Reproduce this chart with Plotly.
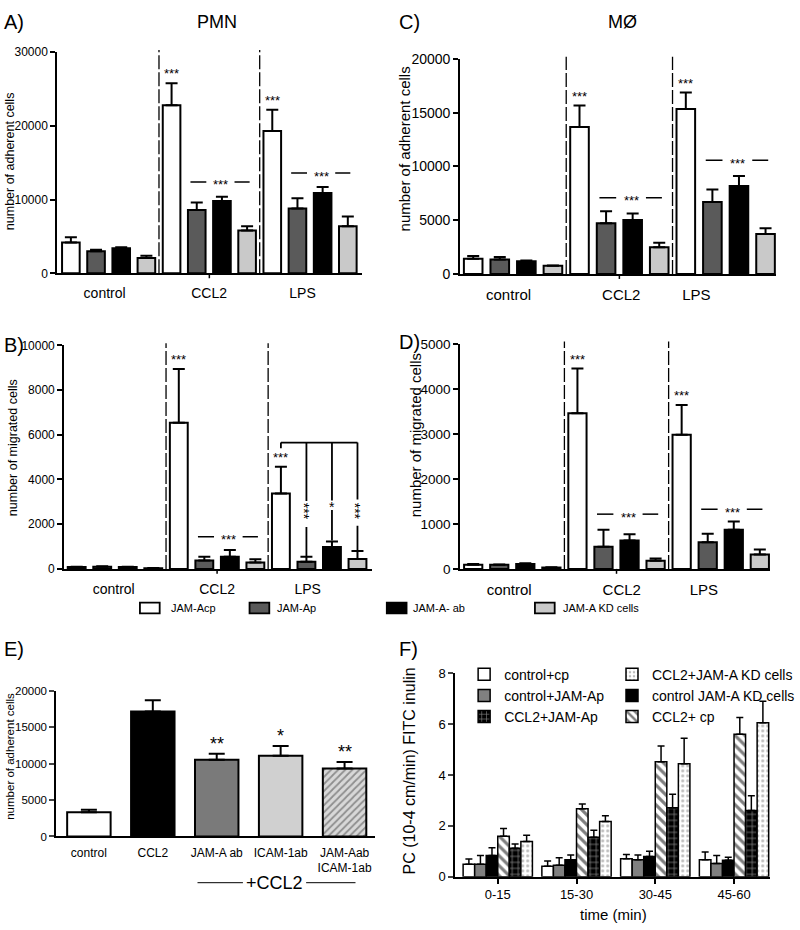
import plotly.graph_objects as go

W, H = 800, 930
FONT = "Liberation Sans, Arial, Helvetica, sans-serif"
NARROW = "Liberation Sans Narrow, Arial Narrow, Liberation Sans, Arial, sans-serif"

# ---------------- data ----------------
conditions = ["control", "CCL2", "LPS"]
series_names = ["JAM-Acp", "JAM-Ap", "JAM-A- ab", "JAM-A KD cells"]
series_colors = ["#ffffff", "#5a5a5a", "#000000", "#c9c9c9"]

# A) PMN - number of adherent cells
A_cp = [4200, 22800, 19300]
A_cp_err = [700, 3000, 2900]
A_p = [3000, 8600, 8800]
A_p_err = [200, 1000, 1400]
A_ab = [3400, 9800, 10900]
A_ab_err = [150, 600, 800]
A_kd = [2100, 5800, 6400]
A_kd_err = [300, 600, 1300]

# B) PMN - number of migrated cells
B_cp = [80, 6540, 3370]
B_cp_err = [20, 2400, 1200]
B_p = [100, 370, 320]
B_p_err = [20, 170, 220]
B_ab = [80, 540, 980]
B_ab_err = [15, 300, 250]
B_kd = [30, 290, 440]
B_kd_err = [10, 140, 360]

# C) MØ - number of adherent cells
C_cp = [1430, 13670, 15340]
C_cp_err = [240, 1980, 1520]
C_p = [1340, 4720, 6700]
C_p_err = [240, 1120, 1150]
C_ab = [1190, 5020, 8190]
C_ab_err = [60, 610, 910]
C_kd = [760, 2500, 3710]
C_kd_err = [40, 400, 550]

# D) MØ - number of migrated cells
D_cp = [90, 3460, 2980]
D_cp_err = [20, 990, 660]
D_p = [90, 490, 590]
D_p_err = [10, 380, 190]
D_ab = [110, 630, 870]
D_ab_err = [15, 140, 180]
D_kd = [30, 180, 320]
D_kd_err = [5, 50, 110]

# B) LPS bracket: (series index, stars, star centre, upper segment end, lower segment start)
B_bracket_y = 5650
B_bracket_items = [(1, "***", 2581, 3034, 1878), (2, "*", 2889, 3065, 2638), (3, "***", 2581, 3109, 1935)]

# E) adherent cells with antibodies
E_cats = ["control", "CCL2", "JAM-A ab", "ICAM-1ab", "JAM-Aab<br>ICAM-1ab"]
E_vals = [3330, 17170, 10560, 11100, 9350]
E_err = [360, 1570, 810, 1350, 900]
E_sig = ["", "", "**", "*", "**"]
E_colors = ["#ffffff", "#000000", "#7a7a7a", "#d0d0d0", "#d8d8d8"]
E_patterns = ["", "", "", "", "/"]

# F) permeability
F_times = ["0-15", "15-30", "30-45", "45-60"]
F_names = ["control+cp", "control+JAM-Ap", "control JAM-A KD cells",
           "CCL2+ cp", "CCL2+JAM-Ap", "CCL2+JAM-A KD cells"]
F_vals = [
    [0.49, 0.41, 0.71, 0.67],
    [0.49, 0.45, 0.67, 0.52],
    [0.84, 0.67, 0.80, 0.65],
    [1.59, 2.68, 4.52, 5.61],
    [1.12, 1.55, 2.71, 2.61],
    [1.39, 2.17, 4.45, 6.06],
]
F_errs = [
    [0.21, 0.21, 0.17, 0.30],
    [0.35, 0.30, 0.19, 0.32],
    [0.30, 0.19, 0.20, 0.12],
    [0.31, 0.18, 0.62, 0.65],
    [0.17, 0.28, 0.54, 0.58],
    [0.24, 0.23, 1.00, 0.84],
]

# ---------------- helpers ----------------
def px(xp):
    return xp / W

def py(yp):
    return 1 - yp / H

fig = go.Figure()
annotations = []
shapes = []

def ann(text, xp, yp, size, **kw):
    d = dict(text=text, x=px(xp), y=py(yp), xref="paper", yref="paper",
             showarrow=False, font=dict(size=size, color="black", family=kw.pop("family", FONT)),
             xanchor=kw.pop("xanchor", "center"), yanchor=kw.pop("yanchor", "middle"))
    d.update(kw)
    annotations.append(d)

panels = {
    "A": dict(vals=[A_cp, A_p, A_ab, A_kd], errs=[A_cp_err, A_p_err, A_ab_err, A_kd_err],
              ax="", dom_x=(58, 367), dom_y=(45, 270), xr=[-0.54, 11.58], yr=[0, 30000], dt=10000,
              labels=[1.34, 5.49, 9.2], sig_y=[12400, 13600], bracket=False, tf=12, lf=14),
    "B": dict(vals=[B_cp, B_p, B_ab, B_kd], errs=[B_cp_err, B_p_err, B_ab_err, B_kd_err],
              ax="2", dom_x=(65, 377), dom_y=(343.3, 570.7), xr=[-0.49, 11.58], yr=[0, 10000], dt=2000,
              labels=[1.45, 5.5, 9.05], sig_y=[1440, None], bracket=True, tf=12, lf=14),
    "C": dict(vals=[C_cp, C_p, C_ab, C_kd], errs=[C_cp_err, C_p_err, C_ab_err, C_kd_err],
              ax="3", dom_x=(466, 786), dom_y=(51.7, 270.7), xr=[-0.49, 11.4], yr=[0, 20000], dt=5000,
              labels=[1.33, 5.57, 8.4], sig_y=[7100, 10570], bracket=False, tf=14, lf=15),
    "D": dict(vals=[D_cp, D_p, D_ab, D_kd], errs=[D_cp_err, D_p_err, D_ab_err, D_kd_err],
              ax="4", dom_x=(466, 780), dom_y=(341.7, 570.7), xr=[-0.5, 11.4], yr=[0, 5000], dt=1000,
              labels=[1.38, 5.7, 8.85], sig_y=[1216, 1325], bracket=False, tf=13.5, lf=15),
}

layout_axes = {}

def axis_common():
    return dict(showline=True, linecolor="black", linewidth=2, showgrid=False, zeroline=False,
                tickfont=dict(size=12, color="black", family=FONT))

for key, p in panels.items():
    xa = "x" + p["ax"]
    ya = "y" + p["ax"]
    for s in range(4):
        fig.add_trace(go.Bar(
            x=[c * 4 + s for c in range(3)], y=p["vals"][s], width=0.7, offset=-0.35,
            marker=dict(color=series_colors[s], line=dict(color="black", width=2)),
            error_y=dict(type="data", array=p["errs"][s], arrayminus=[0, 0, 0], symmetric=False,
                         color="black", thickness=2, width=6),
            name=series_names[s], showlegend=False, xaxis=xa, yaxis=ya))
    xkey = "xaxis" + p["ax"]
    ykey = "yaxis" + p["ax"]
    xd = axis_common()
    xd.update(domain=[px(p["dom_x"][0]), px(p["dom_x"][1])], range=p["xr"], anchor=ya,
              tickmode="array", tickvals=p["labels"], ticktext=conditions, ticks="",
              tickfont=dict(size=p["lf"], color="black", family=FONT), ticklabelstandoff=6)
    yd = axis_common()
    yd.update(domain=[py(p["dom_y"][1]), py(p["dom_y"][0])], range=p["yr"], anchor=xa,
              tickmode="linear", tick0=0, dtick=p["dt"], tickformat="d", ticks="outside",
              ticklen=5, tickwidth=1.5, tickcolor="black",
              tickfont=dict(size=p["tf"], color="black", family=FONT))
    layout_axes[xkey] = xd
    layout_axes[ykey] = yd
    # small tick mark under the middle group
    yb = p["dom_y"][1]
    shapes.append(dict(type="line", xref=xa, yref="paper", x0=5.5, x1=5.5, y0=py(yb), y1=py(yb + 5),
                       line=dict(color="black", width=1.5)))
    # dashed separators
    for xs in (3.5, 7.5):
        shapes.append(dict(type="line", xref=xa, yref=ya + " domain", x0=xs, x1=xs, y0=0, y1=1.01,
                           line=dict(color="black", width=1.3, dash="14px,3px")))
    # *** above JAM-Acp at CCL2 and LPS
    cp, cpe = p["vals"][0], p["errs"][0]
    for c in (1, 2):
        annotations.append(dict(text="***", x=c * 4, y=cp[c] + cpe[c], xref=xa, yref=ya,
                                showarrow=False, yanchor="bottom", yshift=0,
                                font=dict(size=13, color="black", family=FONT)))
    # group significance lines
    for c, yv in zip((1, 2), p["sig_y"]):
        if yv is None:
            continue
        g = c * 4 + 2
        for x0, x1 in ((g - 1.25, g - 0.62), (g + 0.5, g + 1.1)):
            shapes.append(dict(type="line", xref=xa, yref=ya, x0=x0, x1=x1, y0=yv, y1=yv,
                               line=dict(color="black", width=1.5)))
        annotations.append(dict(text="***", x=g - 0.05, y=yv, xref=xa, yref=ya, showarrow=False,
                                yanchor="middle", yshift=-3,
                                font=dict(size=13, color="black", family=FONT)))
    if p["bracket"]:
        top = B_bracket_y
        shapes.append(dict(type="line", xref=xa, yref=ya, x0=8, x1=11, y0=top, y1=top,
                           line=dict(color="black", width=1.8)))
        shapes.append(dict(type="line", xref=xa, yref=ya, x0=8, x1=8, y0=top, y1=top - 250,
                           line=dict(color="black", width=1.8)))
        for s, stars, sy, up_end, low_top in B_bracket_items:
            xv = 8 + s
            shapes.append(dict(type="line", xref=xa, yref=ya, x0=xv, x1=xv, y0=top, y1=up_end,
                               line=dict(color="black", width=1.8)))
            if len(stars) > 1:
                annotations.append(dict(text=stars, x=xv, y=sy, xref=xa, yref=ya, showarrow=False,
                                        textangle=90, xanchor="center", yanchor="middle", xshift=-3,
                                        font=dict(size=14, color="black", family=FONT)))
            else:
                annotations.append(dict(text=stars, x=xv, y=sy, xref=xa, yref=ya, showarrow=False,
                                        yanchor="middle", yshift=-3,
                                        font=dict(size=14, color="black", family=FONT)))
            low_bot = p["vals"][s][2] + p["errs"][s][2] + 40
            shapes.append(dict(type="line", xref=xa, yref=ya, x0=xv, x1=xv, y0=low_top, y1=low_bot,
                               line=dict(color="black", width=1.8)))

# ---------------- panel E ----------------
fig.add_trace(go.Bar(
    x=list(range(len(E_cats))), y=E_vals, width=0.68,
    marker=dict(color=E_colors, line=dict(color="black", width=2),
                pattern=dict(shape=E_patterns, fgcolor="#3a3a3a", bgcolor="#d8d8d8", size=5, solidity=0.35)),
    error_y=dict(type="data", array=E_err, arrayminus=[0] * 5, symmetric=False,
                 color="black", thickness=2, width=8),
    showlegend=False, xaxis="x5", yaxis="y5"))
xd = axis_common()
xd.update(domain=[px(57), px(380)], range=[-0.51, 4.48], anchor="y5", tickmode="array",
          tickvals=list(range(len(E_cats))), ticktext=E_cats, ticks="", ticklabelstandoff=4)
yd = axis_common()
yd.update(domain=[py(843), py(695)], range=[0, 20000], anchor="x5", tickmode="linear", tick0=0,
          dtick=5000, tickformat="d", ticks="outside", ticklen=5, tickwidth=1.5,
          tickfont=dict(size=11.5, color="black", family=FONT))
layout_axes["xaxis5"] = xd
layout_axes["yaxis5"] = yd
for i, s in enumerate(E_sig):
    if s:
        annotations.append(dict(text=s, x=i, y=E_vals[i] + E_err[i], xref="x5", yref="y5",
                                showarrow=False, yanchor="bottom", yshift=-2,
                                font=dict(size=18, color="black", family=FONT)))

# ---------------- panel F ----------------
F_colors = ["#ffffff", "#808080", "#000000", "#ffffff", "#000000", "#ffffff"]
F_pat = [dict(shape=""), dict(shape=""), dict(shape=""),
         dict(shape="\\", fgcolor="black", bgcolor="white", size=7, solidity=0.45),
         dict(shape="+", fgcolor="white", bgcolor="black", size=6, solidity=0.25),
         dict(shape=".", fgcolor="#777777", bgcolor="white", size=5, solidity=0.3)]
F_leg = ["legend", "legend", "legend2", "legend2", "legend", "legend2"]
F_rank = [1, 2, 2, 3, 3, 1]
for k in range(6):
    fig.add_trace(go.Bar(
        x=F_times, y=F_vals[k], name=F_names[k],
        marker=dict(color=F_colors[k], line=dict(color="black", width=1.5), pattern=F_pat[k]),
        error_y=dict(type="data", array=F_errs[k], arrayminus=[0] * 4, symmetric=False,
                     color="black", thickness=1.5, width=3.5),
        legend=F_leg[k], legendrank=F_rank[k], xaxis="x6", yaxis="y6"))
xd = axis_common()
xd.update(domain=[px(461), px(780)], range=[-0.54, 3.46], anchor="y6", type="category",
          ticks="outside", ticklen=5, tickwidth=1.5, tickcolor="black",
          tickfont=dict(size=13, color="black", family=FONT))
yd = axis_common()
yd.update(domain=[py(884), py(677)], range=[0, 8], anchor="x6", tickmode="linear", tick0=0, dtick=2,
          ticks="outside", ticklen=5, tickwidth=1.5, tickfont=dict(size=13, color="black", family=FONT))
layout_axes["xaxis6"] = xd
layout_axes["yaxis6"] = yd

# ---------------- legend of A-D ----------------
leg_box = [(141.7, 161.7), (252.7, 272.7), (391.7, 411.7), (541.7, 561.7)]
leg_text_x = [170.7, 278, 416.7, 568]
for s in range(4):
    x0, x1 = leg_box[s]
    shapes.append(dict(type="rect", xref="paper", yref="paper", x0=px(x0), x1=px(x1),
                       y0=py(616), y1=py(605), fillcolor=series_colors[s],
                       line=dict(color="black", width=1.8)))
    ann(series_names[s], leg_text_x[s], 610, 11, xanchor="left", family=NARROW)

# ---------------- titles / labels ----------------
for t, xx, yy in (("A)", 2, 14), ("B)", 2, 343), ("C)", 402, 14), ("D)", 402, 340),
                  ("E)", 2, 652), ("F)", 402, 652)):
    ann(t, xx, yy, 20, xanchor="left")
ann("PMN", 220, 14, 18)
ann("MØ", 630, 14, 18)
ann("number of adherent cells", 10, 156, 12.5, textangle=-90)
ann("number of migrated cells", 13, 447, 12.5, textangle=-90)
ann("number of adherent cells", 410, 143, 15, textangle=-90)
ann("number of migrated cells", 421, 435, 15, textangle=-90)
ann("number of adherent cells", 10, 761, 11.5, textangle=-90)
ann("PC (10-4 cm/min) FITC inulin", 415, 776, 16, textangle=-90)
ann("time (min)", 621, 922, 15)
ann("+CCL2", 278, 890, 18)
shapes.append(dict(type="line", xref="paper", yref="paper", x0=px(200), x1=px(246), y0=py(890), y1=py(890),
                   line=dict(color="black", width=1)))
shapes.append(dict(type="line", xref="paper", yref="paper", x0=px(310), x1=px(360), y0=py(890), y1=py(890),
                   line=dict(color="black", width=1)))

leg_common = dict(bgcolor="rgba(0,0,0,0)", borderwidth=0, orientation="v", xanchor="left", yanchor="top",
                  font=dict(size=14, color="black", family=FONT), itemclick=False, tracegroupgap=0)
fig.update_layout(
    width=W, height=H, margin=dict(l=0, r=0, t=0, b=0),
    paper_bgcolor="white", plot_bgcolor="white",
    font=dict(family=FONT, color="black"),
    barmode="group", bargap=0.12, bargroupgap=0,
    annotations=annotations, shapes=shapes,
    legend=dict(x=px(470), y=py(662), **leg_common),
    legend2=dict(x=px(620), y=py(662), **leg_common),
    **layout_axes,
)

fig.write_html("out.html", config={"displayModeBar": False},
               post_script="document.body.style.margin='0';document.body.style.padding='0';")
